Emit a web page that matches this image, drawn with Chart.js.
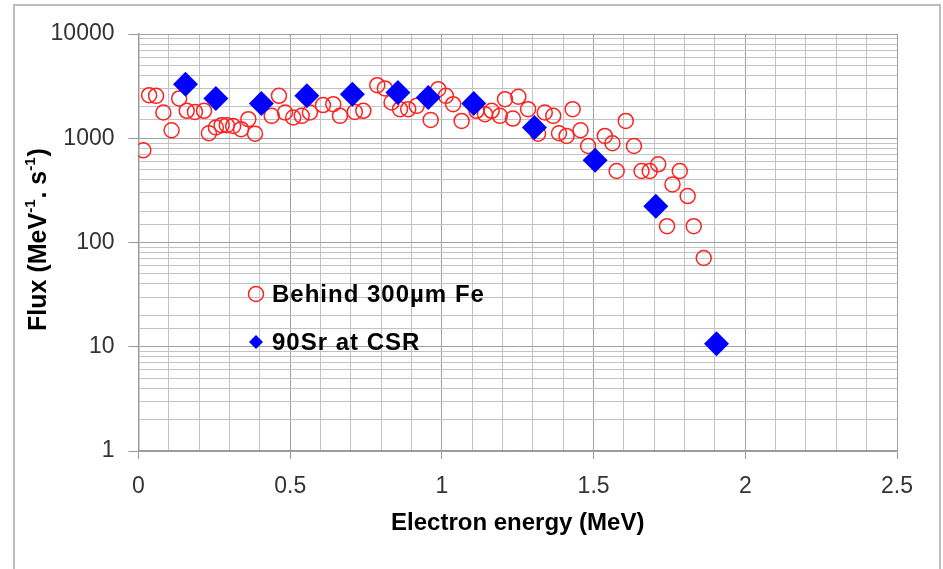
<!DOCTYPE html>
<html>
<head>
<meta charset="utf-8">
<script src="https://cdn.jsdelivr.net/npm/chart.js@4/dist/chart.umd.min.js"></script>
<style>
  html, body { margin: 0; padding: 0; background: #fff; }
  #wrap { width: 943px; height: 569px; }
</style>
</head>
<body>
<div id="wrap"><canvas id="c" width="943" height="569"></canvas></div>
<script>
// ---- data ----
const energyFe = [0.016,0.035,0.058,0.082,0.109,0.134,0.159,0.186,0.216,0.232,0.255,0.274,0.291,0.312,0.338,0.362,0.384,0.439,0.463,0.483,0.510,0.538,0.565,0.608,0.642,0.664,0.713,0.741,0.787,0.812,0.834,0.862,0.889,0.917,0.963,0.988,1.013,1.037,1.065,1.114,1.142,1.164,1.191,1.208,1.234,1.252,1.284,1.317,1.339,1.367,1.386,1.411,1.431,1.457,1.482,1.537,1.562,1.576,1.606,1.633,1.658,1.685,1.713,1.742,1.760,1.784,1.810,1.830,1.863];
const fluxFe   = [767,2590,2550,1766,1194,2410,1832,1790,1832,1117,1268,1334,1334,1310,1222,1523,1107,1640,2552,1766,1580,1640,1766,2080,2123,1640,1790,1832,3230,3006,2204,1900,1900,2045,1500,2958,2550,2123,1467,1832,1702,1832,1640,2371,1545,2500,1900,1107,1766,1640,1117,1052,1900,1194,843,1052,895,485,1467,843,485,485,562,143.5,361,485,279,143.5,71];
const energySr = [0.155,0.255,0.405,0.555,0.705,0.855,0.955,1.105,1.305,1.505,1.705,1.905];
const fluxSr   = [3300,2410,2160,2552,2650,2750,2460,2160,1268,615,223,10.7];
const xTickLabels = ['0','0.5','1','1.5','2','2.5'];
const yTickLabels = ['1','10','100','1000','10000'];
const seriesNames = ['Behind 300\u00b5m Fe','90Sr at CSR'];
const yTitleParts = ['Flux (MeV','-1','. s','-1',')'];
const xTitle = 'Electron energy (MeV)';

const FONT = "'Liberation Sans', Arial, sans-serif";

function isPow10(v) {
  const l = Math.log10(v);
  return Math.abs(l - Math.round(l)) < 1e-9;
}
function isHalf(v) {
  return Math.round(v * 10) % 5 === 0;
}

const framePlugin = {
  id: 'frame',
  beforeDraw(chart) {
    const ctx = chart.ctx;
    ctx.save();
    ctx.fillStyle = '#fff';
    ctx.fillRect(0, 0, chart.width, chart.height);
    ctx.strokeStyle = '#bdbdbd';
    ctx.lineWidth = 2;
    ctx.strokeRect(14, 5, 926, chart.height + 10);
    ctx.restore();
  },
  afterDraw(chart) {
    const ctx = chart.ctx;
    const ca = chart.chartArea;
    ctx.save();
    // y title (rotated, with superscripts)
    const big = "bold 25px " + FONT, small = "bold 15px " + FONT;
    let widths = yTitleParts.map((t, i) => { ctx.font = (i % 2 === 1) ? small : big; return ctx.measureText(t).width; });
    const total = widths.reduce((a, b) => a + b, 0);
    ctx.translate(39, (ca.top + ca.bottom) / 2 - 2);
    ctx.rotate(-Math.PI / 2);
    ctx.fillStyle = '#000';
    ctx.textBaseline = 'middle';
    ctx.textAlign = 'left';
    let x = -total / 2;
    yTitleParts.forEach((t, i) => {
      const sup = i % 2 === 1;
      ctx.font = sup ? small : big;
      ctx.fillText(t, x, sup ? -8 : 0);
      x += widths[i] + (sup ? 1 : 0);
    });
    ctx.restore();

    // legend inside plot
    ctx.save();
    const lx = ca.left + 117.5;
    const ly1 = ca.top + 260;
    const ly2 = ca.top + 308;
    ctx.strokeStyle = '#ff2020';
    ctx.lineWidth = 1.5;
    ctx.beginPath();
    ctx.arc(lx, ly1, 7.5, 0, Math.PI * 2);
    ctx.stroke();
    ctx.fillStyle = '#0000ff';
    ctx.beginPath();
    ctx.moveTo(lx - 7, ly2); ctx.lineTo(lx, ly2 - 7); ctx.lineTo(lx + 7, ly2); ctx.lineTo(lx, ly2 + 7);
    ctx.closePath();
    ctx.fill();
    ctx.fillStyle = '#000';
    ctx.font = "bold 24px " + FONT;
    try { ctx.letterSpacing = '1px'; } catch (e) {}
    ctx.textBaseline = 'middle';
    ctx.fillText(seriesNames[0], lx + 16, ly1 + 1);
    ctx.fillText(seriesNames[1], lx + 16, ly2 + 1);
    ctx.restore();
  }
};

new Chart(document.getElementById('c'), {
  type: 'scatter',
  data: {
    datasets: [
      {
        label: seriesNames[0],
        data: energyFe.map((e, i) => ({ x: e, y: fluxFe[i] })),
        pointStyle: 'circle',
        pointRadius: 7.5,
        pointBorderWidth: 1.5,
        borderColor: '#ff2020',
        backgroundColor: 'rgba(0,0,0,0)',
        order: 2
      },
      {
        label: seriesNames[1],
        data: energySr.map((e, i) => ({ x: e, y: fluxSr[i] })),
        pointStyle: 'rectRot',
        pointRadius: 12.5,
        pointBorderWidth: 0,
        borderColor: '#0000ff',
        backgroundColor: '#0000ff',
        order: 1
      }
    ]
  },
  options: {
    responsive: false,
    animation: false,
    events: [],
    layout: { padding: { top: 34, right: 46, left: 0, bottom: 0 } },
    plugins: { legend: { display: false }, tooltip: { enabled: false } },
    scales: {
      x: {
        type: 'linear',
        min: 0, max: 2.5,
        afterFit: (s) => { s.height = 118; },
        ticks: {
          stepSize: 0.1,
          autoSkip: false,
          maxRotation: 0,
          padding: 14,
          color: '#333',
          font: { family: FONT, size: 23 },
          callback: (v) => { const k = Math.round(v * 10); return (k % 5 === 0) ? xTickLabels[k / 5] : ''; }
        },
        grid: {
          color: (c) => (c.tick && isHalf(c.tick.value)) ? '#a0a0a0' : '#c2c2c2',
          tickColor: (c) => (c.tick && isHalf(c.tick.value)) ? '#999' : 'rgba(0,0,0,0)',
          tickLength: 8,
          lineWidth: 1
        },
        border: { color: '#999', width: 1.5 },
        title: {
          display: true,
          text: xTitle,
          color: '#000',
          font: { family: FONT, size: 24, weight: 'bold' },
          padding: { top: 0, bottom: 31 }
        }
      },
      y: {
        type: 'logarithmic',
        min: 1, max: 10000,
        afterFit: (s) => { s.width = 138.5; },
        ticks: {
          autoSkip: false,
          padding: 14,
          color: '#333',
          font: { family: FONT, size: 23 },
          callback: (v) => isPow10(v) ? yTickLabels[Math.round(Math.log10(v))] : ''
        },
        grid: {
          color: (c) => (c.tick && isPow10(c.tick.value)) ? '#a0a0a0' : '#c2c2c2',
          tickColor: (c) => (c.tick && isPow10(c.tick.value)) ? '#999' : 'rgba(0,0,0,0)',
          tickLength: 10,
          lineWidth: 1
        },
        border: { color: '#999', width: 1.5 }
      }
    }
  },
  plugins: [framePlugin]
});
</script>
</body>
</html>
